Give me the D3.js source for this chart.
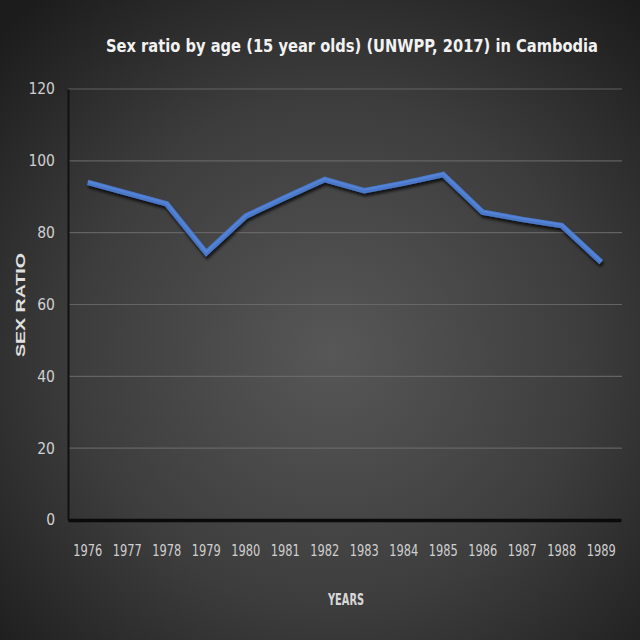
<!DOCTYPE html>
<html>
<head>
<meta charset="utf-8">
<script src="https://cdn.jsdelivr.net/npm/d3@7"></script>
<style>
  html, body { margin: 0; padding: 0; background: #2a2a2a; }
  svg { display: block; }
</style>
</head>
<body>
<script>
const years = ["1976","1977","1978","1979","1980","1981","1982","1983","1984","1985","1986","1987","1988","1989"];
const sexRatio = [94.0, 91.0, 88.0, 74.4, 84.6, 89.8, 94.8, 91.7, 93.8, 96.2, 85.7, 83.7, 82.0, 71.8];
const yTicks = [0, 20, 40, 60, 80, 100, 120];
const titleText = "Sex ratio by age (15 year olds) (UNWPP, 2017) in Cambodia";
const xTitle = "YEARS";
const yTitle = "SEX RATIO";

const W = 640, H = 640;
const m = { left: 68, right: 622, top: 89, bottom: 520 };
const condensed = "'Liberation Sans Narrow', 'DejaVu Sans Condensed', 'Roboto Condensed', sans-serif";

const svg = d3.select("body").append("svg").attr("width", W).attr("height", H);
const defs = svg.append("defs");
const rg = defs.append("radialGradient").attr("id", "bg")
  .attr("cx", "52%").attr("cy", "55%").attr("r", "72%");
rg.append("stop").attr("offset", "0%").attr("stop-color", "#575757");
rg.append("stop").attr("offset", "55%").attr("stop-color", "#3d3d3d");
rg.append("stop").attr("offset", "100%").attr("stop-color", "#1c1c1c");

const f = defs.append("filter").attr("id", "shadow").attr("x", "-10%").attr("y", "-20%").attr("width", "120%").attr("height", "160%");
f.append("feDropShadow").attr("dx", 1).attr("dy", 3).attr("stdDeviation", 1.6)
  .attr("flood-color", "#000").attr("flood-opacity", 0.75);

svg.append("rect").attr("width", W).attr("height", H).attr("fill", "url(#bg)");

const x = d3.scaleBand().domain(years).range([m.left, m.right - 1]);
const y = d3.scaleLinear().domain([0, 120]).range([m.bottom, m.top]);

// gridlines
svg.append("g").selectAll("line").data(yTicks.filter(d => d > 0)).join("line")
  .attr("x1", m.left).attr("x2", m.right)
  .attr("y1", d => y(d)).attr("y2", d => y(d))
  .attr("stroke", "#6e6e6e").attr("stroke-width", 1.2).attr("opacity", 0.8);

// y axis
const yAxis = svg.append("g").attr("transform", `translate(${m.left},0)`)
  .call(d3.axisLeft(y).tickValues(yTicks).tickSize(0).tickPadding(13));
yAxis.select(".domain").attr("stroke", "#111").attr("stroke-width", 2);
yAxis.selectAll("text").attr("fill", "#d0d0d0").attr("font-size", 15.5)
  .attr("font-family", condensed);

// x axis
const xAxis = svg.append("g").attr("transform", `translate(0,${m.bottom})`)
  .call(d3.axisBottom(x).tickSize(0).tickPadding(25));
xAxis.select(".domain").attr("stroke", "#0a0a0a").attr("stroke-width", 3.5);
xAxis.selectAll("text").attr("fill", "#d0d0d0").attr("font-size", 15)
  .attr("font-family", condensed)
  .attr("textLength", 29).attr("lengthAdjust", "spacingAndGlyphs");

// line
const line = d3.line().x((d, i) => x(years[i]) + x.bandwidth() / 2).y(d => y(d));
svg.append("path").datum(sexRatio)
  .attr("d", line).attr("fill", "none")
  .attr("stroke", "#4a78c9").attr("stroke-width", 5.5)
  .attr("stroke-linejoin", "miter").attr("stroke-linecap", "butt")
  .attr("filter", "url(#shadow)");
svg.append("path").datum(sexRatio)
  .attr("d", line).attr("fill", "none")
  .attr("stroke", "#5d8be0").attr("stroke-width", 2).attr("opacity", 0.6)
  .attr("transform", "translate(0,-0.8)");

// title
svg.append("text").attr("x", 352).attr("y", 52).attr("text-anchor", "middle")
  .attr("fill", "#f2f2f2").attr("font-size", 17).attr("font-weight", "bold")
  .attr("font-family", condensed)
  .attr("textLength", 492).attr("lengthAdjust", "spacingAndGlyphs")
  .text(titleText);

// x title
svg.append("text").attr("x", 346).attr("y", 605).attr("text-anchor", "middle")
  .attr("fill", "#d8d8d8").attr("font-size", 15).attr("font-weight", "bold")
  .attr("font-family", condensed)
  .attr("textLength", 36).attr("lengthAdjust", "spacingAndGlyphs")
  .text(xTitle);

// y title
svg.append("text").attr("transform", "translate(25,305) rotate(-90)")
  .attr("text-anchor", "middle")
  .attr("fill", "#e0e0e0").attr("font-size", 13).attr("font-weight", "bold")
  .attr("font-family", "'Liberation Sans', Arial, sans-serif")
  .attr("textLength", 104).attr("lengthAdjust", "spacingAndGlyphs")
  .text(yTitle);
</script>
</body>
</html>
